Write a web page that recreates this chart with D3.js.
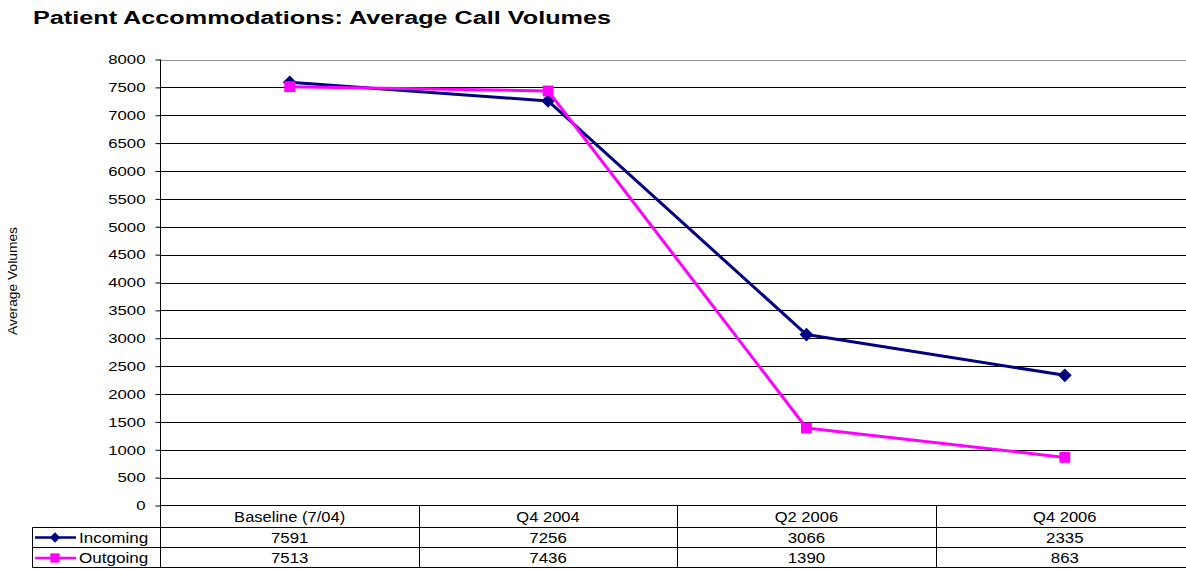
<!DOCTYPE html>
<html>
<head>
<meta charset="utf-8">
<script src="https://cdn.jsdelivr.net/npm/d3@7"></script>
<style>
  html, body { margin: 0; padding: 0; background: #fff; }
  svg { display: block; font-family: "Liberation Sans", Arial, sans-serif; }
</style>
</head>
<body>
<svg id="chart" width="1186" height="569"></svg>
<script>
// Chart data
const categories = ["Baseline (7/04)", "Q4 2004", "Q2 2006", "Q4 2006"];
const seriesNames = ["Incoming", "Outgoing"];
const incoming = [7591, 7256, 3066, 2335];
const outgoing = [7513, 7436, 1390, 863];
const yTicks = [0, 500, 1000, 1500, 2000, 2500, 3000, 3500, 4000, 4500, 5000, 5500, 6000, 6500, 7000, 7500, 8000];

const seriesColors = ["#000080", "#FF00FF"];
const seriesValues = [incoming, outgoing];

const svg = d3.select("#chart");

// Widen text horizontally by a factor, keeping its anchor
function widen(sel, factor) {
  sel.each(function () {
    const w = this.getComputedTextLength();
    d3.select(this).attr("textLength", w * factor).attr("lengthAdjust", "spacingAndGlyphs");
  });
}

// Layout
const plotLeft = 160.5, plotRight = 1194;
const plotTop = 59.5, plotBottom = 505.5;
const rowBottoms = [527.5, 547.5, 567.5];
const legendLeft = 32.5;

const x = d3.scaleBand().domain(categories).range([plotLeft, plotRight]);
const y = d3.scaleLinear().domain([0, 8000]).range([plotBottom, plotTop]);

// Title
svg.append("text")
  .attr("x", 33).attr("y", 24)
  .attr("font-size", 18).attr("font-weight", "bold")
  .attr("fill", "#000")
  .attr("textLength", 578).attr("lengthAdjust", "spacingAndGlyphs")
  .text("Patient Accommodations: Average Call Volumes");

// Y axis title
svg.append("text")
  .attr("transform", "translate(17,281) rotate(-90)")
  .attr("text-anchor", "middle")
  .attr("font-size", 12)
  .attr("textLength", 108).attr("lengthAdjust", "spacingAndGlyphs")
  .text("Average Volumes");

// Horizontal gridlines
svg.append("g").selectAll("line")
  .data(yTicks.filter(t => t > 0))
  .join("line")
  .attr("x1", plotLeft).attr("x2", plotRight)
  .attr("y1", d => Math.round(y(d)) + 0.5).attr("y2", d => Math.round(y(d)) + 0.5)
  .attr("stroke", d => d === 8000 ? "#999" : "#000")
  .attr("stroke-width", 1);

// Y axis with ticks
const yAxis = d3.axisLeft(y).tickValues(yTicks).tickSize(5).tickPadding(10).tickFormat(d3.format("d"));
const gy = svg.append("g").attr("transform", `translate(${plotLeft},0)`).call(yAxis);
gy.select(".domain").remove();
gy.selectAll(".tick line").attr("stroke", "#000");
gy.selectAll(".tick text").attr("font-size", 13.5).attr("fill", "#000")
  .attr("font-family", "Liberation Sans, Arial, sans-serif");
widen(gy.selectAll(".tick text"), 1.24);
svg.append("line")
  .attr("x1", plotLeft).attr("x2", plotLeft)
  .attr("y1", plotTop).attr("y2", rowBottoms[2])
  .attr("stroke", "#000");

// Data table grid
const tableG = svg.append("g");
tableG.append("line")
  .attr("x1", plotLeft).attr("x2", plotRight)
  .attr("y1", plotBottom).attr("y2", plotBottom).attr("stroke", "#000");
rowBottoms.forEach(rb => {
  tableG.append("line")
    .attr("x1", legendLeft).attr("x2", plotRight)
    .attr("y1", rb).attr("y2", rb).attr("stroke", "#000");
});
tableG.append("line")
  .attr("x1", legendLeft).attr("x2", legendLeft)
  .attr("y1", rowBottoms[0]).attr("y2", rowBottoms[2]).attr("stroke", "#000");
tableG.selectAll("line.sep")
  .data(categories.slice(1))
  .join("line").attr("class", "sep")
  .attr("x1", d => Math.round(x(d)) + 0.5).attr("x2", d => Math.round(x(d)) + 0.5)
  .attr("y1", plotBottom).attr("y2", rowBottoms[2]).attr("stroke", "#000");

// Category labels (table header)
const catText = tableG.selectAll("text.cat")
  .data(categories)
  .join("text").attr("class", "cat")
  .attr("x", d => x(d) + x.bandwidth() / 2)
  .attr("y", 522)
  .attr("text-anchor", "middle").attr("font-size", 14)
  .text(d => d);
widen(catText, 1.18);

// Value rows
const rowBaselines = [542.5, 563];
seriesValues.forEach((vals, si) => {
  const vt = tableG.selectAll(`text.val${si}`)
    .data(vals)
    .join("text").attr("class", `val${si}`)
    .attr("x", (d, i) => x(categories[i]) + x.bandwidth() / 2)
    .attr("y", rowBaselines[si])
    .attr("text-anchor", "middle").attr("font-size", 14)
    .text(d => d);
  widen(vt, 1.2);
});

// Legend keys inside the table
const diamond = d3.symbol().type(d3.symbolDiamond2).size(70);
const square = d3.symbol().type(d3.symbolSquare2).size(110);
seriesNames.forEach((name, si) => {
  const cy = rowBaselines[si] - 5;
  tableG.append("line")
    .attr("x1", 35).attr("x2", 76)
    .attr("y1", cy).attr("y2", cy)
    .attr("stroke", seriesColors[si]).attr("stroke-width", 2.5);
  tableG.append("path")
    .attr("d", si === 0 ? diamond() : square())
    .attr("transform", `translate(55,${cy})`)
    .attr("fill", seriesColors[si]);
  const lt = tableG.append("text")
    .attr("x", 79).attr("y", rowBaselines[si])
    .attr("font-size", 14)
    .text(name);
  widen(lt, 1.22);
});

// Series lines and markers
const line = d3.line()
  .x((d, i) => x(categories[i]) + x.bandwidth() / 2)
  .y(d => y(d));

seriesValues.forEach((vals, si) => {
  svg.append("path")
    .datum(vals)
    .attr("d", line)
    .attr("fill", "none")
    .attr("stroke", seriesColors[si])
    .attr("stroke-width", 3)
    .attr("stroke-linejoin", "round");
  svg.append("g").selectAll("path")
    .data(vals)
    .join("path")
    .attr("d", si === 0 ? d3.symbol().type(d3.symbolDiamond2).size(120)() : d3.symbol().type(d3.symbolSquare2).size(150)())
    .attr("transform", (d, i) => `translate(${x(categories[i]) + x.bandwidth() / 2},${y(d)})`)
    .attr("fill", seriesColors[si]);
});
</script>
</body>
</html>
